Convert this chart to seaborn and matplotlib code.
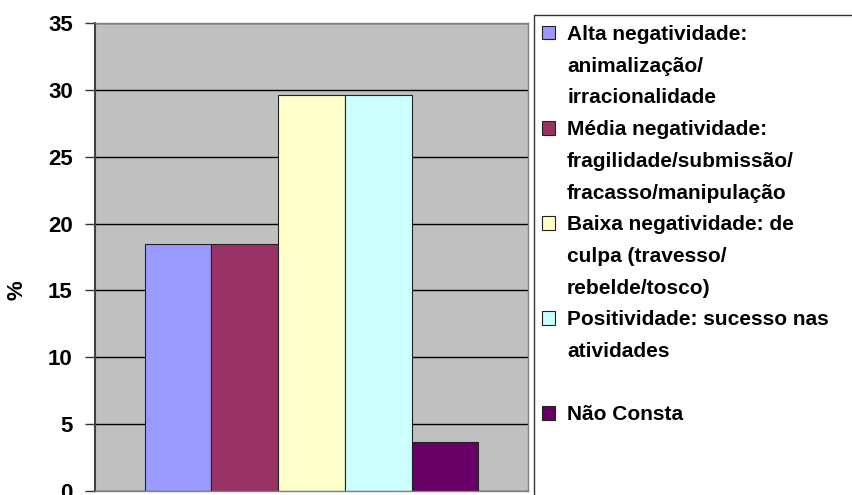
import matplotlib
matplotlib.use('Agg')
import matplotlib.pyplot as plt
import seaborn as sns
import pandas as pd
from matplotlib.patches import Patch, Rectangle

# ================================
# Data
# ================================
categorias = [
    'Alta negatividade: animalização/ irracionalidade',
    'Média negatividade: fragilidade/submissão/ fracasso/manipulação',
    'Baixa negatividade: de culpa (travesso/ rebelde/tosco)',
    'Positividade: sucesso nas atividades',
    'Não Consta',
]
# legend text, wrapped as in the original
linhas_legenda = [
    ['Alta negatividade:', 'animalização/', 'irracionalidade'],
    ['Média negatividade:', 'fragilidade/submissão/', 'fracasso/manipulação'],
    ['Baixa negatividade: de', 'culpa (travesso/', 'rebelde/tosco)'],
    ['Positividade: sucesso nas', 'atividades', ' '],
    ['Não Consta'],
]
percentuais = [18.5, 18.5, 29.6, 29.6, 3.7]
cores = ['#9999FF', '#993366', '#FFFFCC', '#CCFFFF', '#660066']
yticks = [0, 5, 10, 15, 20, 25, 30, 35]

df = pd.DataFrame({'grupo': [''] * len(categorias), 'categoria': categorias, 'pct': percentuais})

# ================================
# Plot
# ================================
sns.set_style('white')
plt.rcParams['font.family'] = ['Liberation Sans', 'DejaVu Sans']
plt.rcParams['text.color'] = 'black'
plt.rcParams['axes.labelcolor'] = 'black'
plt.rcParams['ytick.color'] = 'black'

W, H = 853, 495
fig = plt.figure(figsize=(W / 100, H / 100), dpi=100)
ax = fig.add_axes([95 / W, 1 - 491 / H, 433 / W, 468 / H])
ax.set_facecolor('#C0C0C0')

sns.barplot(data=df, x='grupo', y='pct', hue='categoria', hue_order=categorias,
            palette=cores, saturation=1, width=0.771, edgecolor='#222222',
            linewidth=0.8, legend=False, ax=ax)

ax.set_ylim(0, 35)
ax.set_yticks(yticks)
ax.set_xticks([])
ax.set_xlabel('')
ax.yaxis.grid(True, color='black', linewidth=1)
ax.set_axisbelow(True)
ax.tick_params(axis='y', direction='out', length=7, width=1, color='#333333',
               labelcolor='black', pad=9, labelsize=16, left=True)
for lab in ax.get_yticklabels():
    lab.set_fontweight('bold')
for side in ['top', 'right', 'bottom']:
    ax.spines[side].set_color('#808080')
    ax.spines[side].set_linewidth(1)
ax.spines['left'].set_color('#404040')
ax.spines['left'].set_linewidth(1.5)

ax.set_ylabel('%', fontsize=16, fontweight='bold', color='black')
ax.yaxis.set_label_coords(-0.155, 0.43)

# legend, one row per text line
handles, labels = [], []
for cor, linhas in zip(cores, linhas_legenda):
    for i, linha in enumerate(linhas):
        if i == 0:
            handles.append(Patch(facecolor=cor, edgecolor='#222222', linewidth=0.8))
        else:
            handles.append(Patch(facecolor='none', edgecolor='none'))
        labels.append(linha)

leg = fig.legend(handles, labels, loc='upper left', bbox_to_anchor=(542 / W, 1 - 25 / H),
                 bbox_transform=fig.transFigure, frameon=False, handlelength=0.625,
                 handleheight=0.625, handletextpad=0.58, labelspacing=0.61, borderpad=0,
                 borderaxespad=0, prop={'weight': 'bold', 'size': 15})
for t in leg.get_texts():
    t.set_color('black')

fig.patches.append(Rectangle((534 / W, -0.1), 1, 1 - 15 / H + 0.1, transform=fig.transFigure,
                             fill=False, edgecolor='#333333', linewidth=1, clip_on=False))

fig.savefig('out.png', dpi=100)
